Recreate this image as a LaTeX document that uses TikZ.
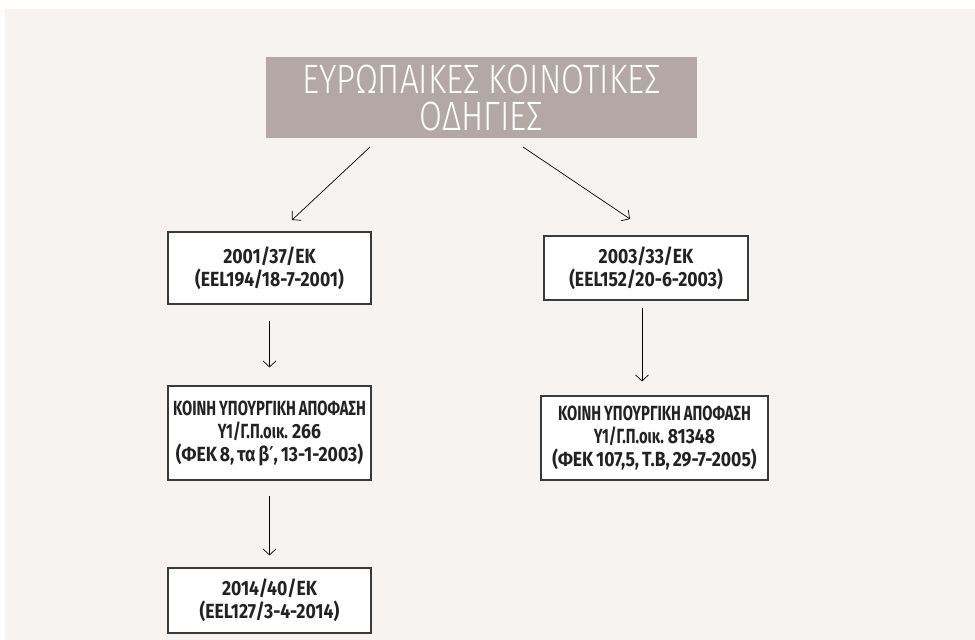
\documentclass[tikz,border=0pt]{standalone}
\usepackage{fontspec}
\usetikzlibrary{arrows.meta}
\setmainfont{Fira Sans}
\newfontfamily\titlefont[FakeStretch=0.81]{Fira Sans Light}
\newfontfamily\boxfont[FakeStretch=0.72]{Fira Sans}
\newfontfamily\numfont[FakeStretch=0.86]{Fira Sans}
\newfontfamily\symfont[FakeStretch=0.8]{DejaVu Sans}
\definecolor{paper}{HTML}{F7F3F0}
\definecolor{titlefill}{HTML}{B3A8A5}
\definecolor{frame}{HTML}{3A3A3A}
\definecolor{ink}{HTML}{222222}
% narrow word spaces inside the boxes
\newcommand{\tightspace}{\spaceskip=0.14em plus 0.05em\relax}
\newcommand{\nl}{\numfont\bfseries}
\begin{document}
\begin{tikzpicture}[x=1pt,y=-1pt,
  docbox/.style={draw=frame, line width=1.2pt, fill=white, align=center,
    font=\boxfont\bfseries\fontsize{20.5}{23}\selectfont\tightspace, text=ink, inner sep=0pt},
  arr/.style={draw=black, line width=0.7pt,
    -{Straight Barb[length=6pt,width=13pt,line width=0.7pt]}}]
  % page and backdrop
  \useasboundingbox (0,0) rectangle (975,640);
  \fill[paper] (5,9) rectangle (975,640);

  % heading
  \node[fill=titlefill, minimum width=431pt, minimum height=81pt, inner sep=0pt,
        align=center, text=white,
        font=\titlefont\fontsize{41}{37}\selectfont] (T) at (481.5,97.5)
    {ΕΥΡΩΠΑΙΚΕΣ ΚΟΙΝΟΤΙΚΕΣ\\ΟΔΗΓΙΕΣ};

  % directives and decisions
  \node[docbox, minimum width=203pt, minimum height=72pt] (A) at (269.5,268)
    {{\nl 2001/37/ΕΚ}\\{\nl (EEL194/18-7-2001)}};
  \node[docbox, minimum width=204pt, minimum height=64pt] (B) at (646,268)
    {{\nl 2003/33/ΕΚ}\\{\nl (EEL152/20-6-2003)}};
  \node[docbox, minimum width=203pt, minimum height=94pt] (C) at (269.5,433)
    {ΚΟΙΝΗ ΥΠΟΥΡΓΙΚΗ ΑΠΟΦΑΣΗ\\Υ1/Γ.Π.οικ. {\nl 266}\\{\nl (ΦΕΚ 8, τα β{\symfont\bfseries ′}, 13-1-2003)}};
  \node[docbox, minimum width=227pt, minimum height=84pt] (D) at (654.5,438)
    {ΚΟΙΝΗ ΥΠΟΥΡΓΙΚΗ ΑΠΟΦΑΣΗ\\Υ1/Γ.Π.οικ. {\nl 81348}\\{\nl (ΦΕΚ 107,5, Τ.Β, 29-7-2005)}};
  \node[docbox, minimum width=203pt, minimum height=65pt] (E) at (269.5,600.5)
    {{\nl 2014/40/ΕΚ}\\{\nl (EEL127/3-4-2014)}};

  % diagonal arrows from the heading
  \coordinate (tl) at (370,147);
  \coordinate (al) at (292,220);
  \coordinate (tr) at (523,147);
  \coordinate (ar) at (630,219);
  \draw[arr] (tl) -- (al);
  \draw[arr] (tr) -- (ar);

  % vertical arrows between boxes
  \draw[arr, shorten <=16pt, shorten >=18pt] (A.south) -- (C.north);
  \draw[arr, shorten <=15pt, shorten >=12pt] (C.south) -- (E.north);
  \draw[arr, shorten <=7pt, shorten >=14pt] (B.south -| 642,0) -- (D.north -| 642,0);
\end{tikzpicture}
\end{document}
